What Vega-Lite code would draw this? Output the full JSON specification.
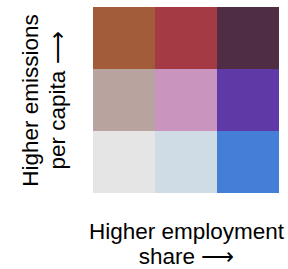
{
  "$schema": "https://vega.github.io/schema/vega-lite/v6.json",
  "width": 186,
  "height": 186,
  "autosize": "none",
  "padding": {"left": 93, "top": 7, "right": 9, "bottom": 76},
  "background": "white",
  "data": {
    "values": [
      {"employment": 1, "emissions": 3, "cell": "1-3"},
      {"employment": 2, "emissions": 3, "cell": "2-3"},
      {"employment": 3, "emissions": 3, "cell": "3-3"},
      {"employment": 1, "emissions": 2, "cell": "1-2"},
      {"employment": 2, "emissions": 2, "cell": "2-2"},
      {"employment": 3, "emissions": 2, "cell": "3-2"},
      {"employment": 1, "emissions": 1, "cell": "1-1"},
      {"employment": 2, "emissions": 1, "cell": "2-1"},
      {"employment": 3, "emissions": 1, "cell": "3-1"}
    ]
  },
  "mark": {"type": "rect"},
  "encoding": {
    "x": {
      "field": "employment", "type": "ordinal",
      "scale": {"paddingInner": 0, "paddingOuter": 0},
      "axis": {
        "title": ["Higher employment", "share ⟶"],
        "labels": false, "ticks": false, "domain": false,
        "titleFont": "Liberation Sans", "titleFontSize": 22.5, "titleFontWeight": "normal",
        "titleColor": "black", "titleLineHeight": 25, "titlePadding": 27
      }
    },
    "y": {
      "field": "emissions", "type": "ordinal", "sort": "descending",
      "scale": {"paddingInner": 0, "paddingOuter": 0},
      "axis": {
        "title": ["Higher emissions", "per capita ⟶"],
        "labels": false, "ticks": false, "domain": false,
        "titleFont": "Liberation Sans", "titleFontSize": 22.5, "titleFontWeight": "normal",
        "titleColor": "black", "titleLineHeight": 27, "titlePadding": 24
      }
    },
    "color": {
      "field": "cell", "type": "nominal", "legend": null,
      "scale": {
        "domain": ["1-3", "2-3", "3-3", "1-2", "2-2", "3-2", "1-1", "2-1", "3-1"],
        "range": ["#a35c3a", "#a33a44", "#4f2d45", "#b8a39e", "#c994be", "#5f3aa6", "#e5e5e5", "#cfdce5", "#457ed6"]
      }
    }
  },
  "config": {"view": {"stroke": null}}
}
